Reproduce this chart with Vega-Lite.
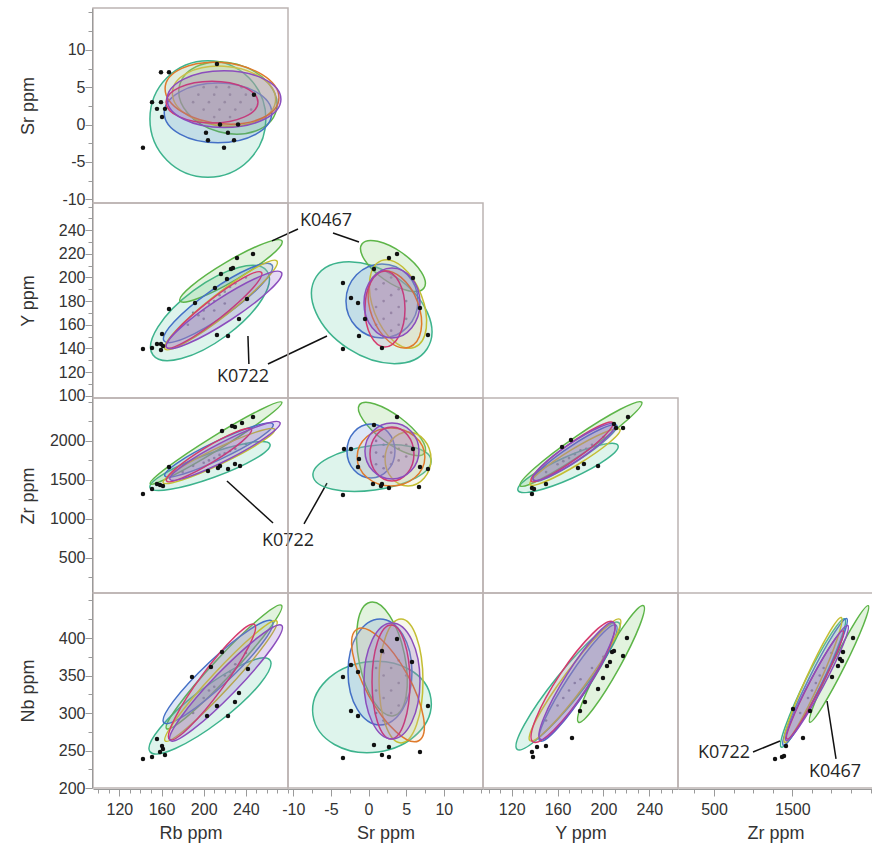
{
"$schema":"https://vega.github.io/schema/vega-lite/v6.json",
"background":"white",
"padding":{"left":18,"top":3,"right":0,"bottom":5},
"config":{
 "view":{"stroke":"#bcb4b2","strokeWidth":1.5},
 "axis":{"domainColor":"#9a9a9a","tickColor":"#9a9a9a","labelFont":"Liberation Sans","labelFontSize":16,"labelColor":"#333333","titleFont":"Liberation Sans","titleFontSize":18,"titleFontWeight":"normal","titleColor":"#333333","grid":false,"labelFlush":false,"labelOverlap":false,"offset":1},
 "axisX":{"labelPadding":5,"titlePadding":7},
 "axisY":{"labelPadding":0}
},
"datasets":{
"ell":[
{"p":"A","e":"K0722","i":0,"x":259,"y":0.75},{"p":"A","e":"K0722","i":1,"x":204,"y":8.55},{"p":"A","e":"K0722","i":2,"x":149,"y":0.75},{"p":"A","e":"K0722","i":3,"x":204,"y":-7.05},
{"p":"A","e":"K0467","i":0,"x":268.8,"y":1.83},{"p":"A","e":"K0467","i":1,"x":214.4,"y":-0.96},{"p":"A","e":"K0467","i":2,"x":177.2,"y":5.29},{"p":"A","e":"K0467","i":3,"x":231.6,"y":8.08},
{"p":"A","e":"s3","i":0,"x":264.6,"y":1.55},{"p":"A","e":"s3","i":1,"x":213.6,"y":5.55},{"p":"A","e":"s3","i":2,"x":162.6,"y":1.55},{"p":"A","e":"s3","i":3,"x":213.6,"y":-2.45},
{"p":"A","e":"s4","i":0,"x":268.3,"y":3.4},{"p":"A","e":"s4","i":1,"x":219.3,"y":7.8},{"p":"A","e":"s4","i":2,"x":170.3,"y":4.2},{"p":"A","e":"s4","i":3,"x":219.3,"y":-0.2},
{"p":"A","e":"s5","i":0,"x":271.4,"y":3.6},{"p":"A","e":"s5","i":1,"x":217.4,"y":8.3},{"p":"A","e":"s5","i":2,"x":163.4,"y":4.8},{"p":"A","e":"s5","i":3,"x":217.4,"y":0.1},
{"p":"A","e":"s7","i":0,"x":251.5,"y":3.0},{"p":"A","e":"s7","i":1,"x":207.9,"y":5.8},{"p":"A","e":"s7","i":2,"x":164.3,"y":3.0},{"p":"A","e":"s7","i":3,"x":207.9,"y":0.2},
{"p":"A","e":"s6","i":0,"x":273.3,"y":3.4},{"p":"A","e":"s6","i":1,"x":219.3,"y":7.2},{"p":"A","e":"s6","i":2,"x":165.3,"y":3.4},{"p":"A","e":"s6","i":3,"x":219.3,"y":-0.4},

{"p":"B","e":"K0722","i":0,"x":260.1,"y":205.4},{"p":"B","e":"K0722","i":1,"x":221.7,"y":150.9},{"p":"B","e":"K0722","i":2,"x":151.9,"y":134.4},{"p":"B","e":"K0722","i":3,"x":190.3,"y":188.9},
{"p":"B","e":"K0467","i":0,"x":274.3,"y":230.9},{"p":"B","e":"K0467","i":1,"x":230.7,"y":198.2},{"p":"B","e":"K0467","i":2,"x":177.5,"y":180.1},{"p":"B","e":"K0467","i":3,"x":221.1,"y":212.8},
{"p":"B","e":"s3","i":0,"x":264.8,"y":210.5},{"p":"B","e":"s3","i":1,"x":221.3,"y":168.7},{"p":"B","e":"s3","i":2,"x":162.4,"y":146.3},{"p":"B","e":"s3","i":3,"x":205.9,"y":188.1},
{"p":"B","e":"s4","i":0,"x":269.5,"y":213.9},{"p":"B","e":"s4","i":1,"x":222.9,"y":169.4},{"p":"B","e":"s4","i":2,"x":163.3,"y":139.5},{"p":"B","e":"s4","i":3,"x":209.9,"y":184},
{"p":"B","e":"s7","i":0,"x":254.9,"y":204.2},{"p":"B","e":"s7","i":1,"x":215.7,"y":165.9},{"p":"B","e":"s7","i":2,"x":164.7,"y":140.8},{"p":"B","e":"s7","i":3,"x":203.9,"y":179.1},
{"p":"B","e":"s6","i":0,"x":273.8,"y":204.2},{"p":"B","e":"s6","i":1,"x":225.5,"y":164},{"p":"B","e":"s6","i":2,"x":164.8,"y":140.8},{"p":"B","e":"s6","i":3,"x":213.1,"y":181},

{"p":"C","e":"K0722","i":0,"x":7.78,"y":139.7},{"p":"C","e":"K0722","i":1,"x":-2.69,"y":139.7},{"p":"C","e":"K0722","i":2,"x":-6.94,"y":200.7},{"p":"C","e":"K0722","i":3,"x":3.53,"y":200.7},
{"p":"C","e":"K0467","i":0,"x":7.36,"y":191.1},{"p":"C","e":"K0467","i":1,"x":2.0,"y":198.7},{"p":"C","e":"K0467","i":2,"x":-0.88,"y":228.3},{"p":"C","e":"K0467","i":3,"x":4.48,"y":220.7},
{"p":"C","e":"s3","i":0,"x":6.56,"y":180.1},{"p":"C","e":"s3","i":1,"x":1.78,"y":211.4},{"p":"C","e":"s3","i":2,"x":-3.0,"y":180.1},{"p":"C","e":"s3","i":3,"x":1.78,"y":148.8},
{"p":"C","e":"s4","i":0,"x":6.13,"y":141},{"p":"C","e":"s4","i":1,"x":0.82,"y":170},{"p":"C","e":"s4","i":2,"x":1.69,"y":214.2},{"p":"C","e":"s4","i":3,"x":7.0,"y":185.2},
{"p":"C","e":"s5","i":0,"x":5.4,"y":141},{"p":"C","e":"s5","i":1,"x":0.5,"y":166.5},{"p":"C","e":"s5","i":2,"x":1.6,"y":205},{"p":"C","e":"s5","i":3,"x":6.5,"y":179.5},
{"p":"C","e":"s7","i":0,"x":4.84,"y":173.3},{"p":"C","e":"s7","i":1,"x":2.18,"y":205.4},{"p":"C","e":"s7","i":2,"x":-0.48,"y":173.3},{"p":"C","e":"s7","i":3,"x":2.18,"y":141.2},
{"p":"C","e":"s6","i":0,"x":6.83,"y":178.4},{"p":"C","e":"s6","i":1,"x":3.11,"y":208},{"p":"C","e":"s6","i":2,"x":-0.61,"y":178.4},{"p":"C","e":"s6","i":3,"x":3.11,"y":148.8},

{"p":"D","e":"K0722","i":0,"x":262.9,"y":1956},{"p":"D","e":"K0722","i":1,"x":209.9,"y":1533},{"p":"D","e":"K0722","i":2,"x":149.1,"y":1400},{"p":"D","e":"K0722","i":3,"x":202.1,"y":1823},
{"p":"D","e":"K0467","i":0,"x":274.1,"y":2496},{"p":"D","e":"K0467","i":1,"x":215.2,"y":1897},{"p":"D","e":"K0467","i":2,"x":149.3,"y":1450},{"p":"D","e":"K0467","i":3,"x":208.2,"y":2049},
{"p":"D","e":"s3","i":0,"x":265.9,"y":2214},{"p":"D","e":"s3","i":1,"x":218.2,"y":1779},{"p":"D","e":"s3","i":2,"x":163.1,"y":1552},{"p":"D","e":"s3","i":3,"x":210.8,"y":1987},
{"p":"D","e":"s4","i":0,"x":267.4,"y":2148},{"p":"D","e":"s4","i":1,"x":217.8,"y":1714},{"p":"D","e":"s4","i":2,"x":161.6,"y":1464},{"p":"D","e":"s4","i":3,"x":211.2,"y":1898},
{"p":"D","e":"s7","i":0,"x":245.3,"y":2150},{"p":"D","e":"s7","i":1,"x":208.9,"y":1731},{"p":"D","e":"s7","i":2,"x":164.7,"y":1488},{"p":"D","e":"s7","i":3,"x":201.1,"y":1907},
{"p":"D","e":"s6","i":0,"x":272.4,"y":2234},{"p":"D","e":"s6","i":1,"x":224.1,"y":1768},{"p":"D","e":"s6","i":2,"x":168,"y":1508},{"p":"D","e":"s6","i":3,"x":216.3,"y":1974},

{"p":"E","e":"K0722","i":0,"x":8.3,"y":1756},{"p":"E","e":"K0722","i":1,"x":0.86,"y":1371},{"p":"E","e":"K0722","i":2,"x":-7.38,"y":1550},{"p":"E","e":"K0722","i":3,"x":0.06,"y":1935},
{"p":"E","e":"K0467","i":0,"x":7.43,"y":1843},{"p":"E","e":"K0467","i":1,"x":2.0,"y":2009},{"p":"E","e":"K0467","i":2,"x":-1.21,"y":2463},{"p":"E","e":"K0467","i":3,"x":4.22,"y":2297},
{"p":"E","e":"s3","i":0,"x":3.51,"y":1871},{"p":"E","e":"s3","i":1,"x":0.32,"y":2217},{"p":"E","e":"s3","i":2,"x":-2.87,"y":1871},{"p":"E","e":"s3","i":3,"x":0.32,"y":1525},
{"p":"E","e":"s4","i":0,"x":8.29,"y":1768},{"p":"E","e":"s4","i":1,"x":5.24,"y":2114},{"p":"E","e":"s4","i":2,"x":2.19,"y":1768},{"p":"E","e":"s4","i":3,"x":5.24,"y":1422},
{"p":"E","e":"s5","i":0,"x":7.48,"y":1794},{"p":"E","e":"s5","i":1,"x":2.98,"y":2166},{"p":"E","e":"s5","i":2,"x":-1.52,"y":1794},{"p":"E","e":"s5","i":3,"x":2.98,"y":1422},
{"p":"E","e":"s7","i":0,"x":6.03,"y":1832},{"p":"E","e":"s7","i":1,"x":3.11,"y":2178},{"p":"E","e":"s7","i":2,"x":0.19,"y":1832},{"p":"E","e":"s7","i":3,"x":3.11,"y":1486},
{"p":"E","e":"s6","i":0,"x":6.7,"y":1871},{"p":"E","e":"s6","i":1,"x":3.11,"y":2230},{"p":"E","e":"s6","i":2,"x":-0.48,"y":1871},{"p":"E","e":"s6","i":3,"x":3.11,"y":1512},

{"p":"F","e":"K0722","i":0,"x":212.7,"y":1941},{"p":"F","e":"K0722","i":1,"x":173,"y":1525},{"p":"F","e":"K0722","i":2,"x":125.5,"y":1365},{"p":"F","e":"K0722","i":3,"x":165.2,"y":1781},
{"p":"F","e":"K0467","i":0,"x":233.4,"y":2495},{"p":"F","e":"K0467","i":1,"x":184.85,"y":1865},{"p":"F","e":"K0467","i":2,"x":127.4,"y":1425},{"p":"F","e":"K0467","i":3,"x":175.95,"y":2055},
{"p":"F","e":"s3","i":0,"x":211.6,"y":2198},{"p":"F","e":"s3","i":1,"x":179,"y":1759},{"p":"F","e":"s3","i":2,"x":138.8,"y":1492},{"p":"F","e":"s3","i":3,"x":171.4,"y":1931},
{"p":"F","e":"s4","i":0,"x":214.4,"y":2147},{"p":"F","e":"s4","i":1,"x":178.8,"y":1707},{"p":"F","e":"s4","i":2,"x":136,"y":1441},{"p":"F","e":"s4","i":3,"x":171.6,"y":1881},
{"p":"F","e":"s7","i":0,"x":208.2,"y":2232},{"p":"F","e":"s7","i":1,"x":176.7,"y":1775},{"p":"F","e":"s7","i":2,"x":137,"y":1484},{"p":"F","e":"s7","i":3,"x":168.5,"y":1941},
{"p":"F","e":"s6","i":0,"x":209.9,"y":2211},{"p":"F","e":"s6","i":1,"x":178.7,"y":1762},{"p":"F","e":"s6","i":2,"x":138.7,"y":1505},{"p":"F","e":"s6","i":3,"x":169.9,"y":1954},

{"p":"G","e":"K0722","i":0,"x":262.9,"y":370.5},{"p":"G","e":"K0722","i":1,"x":216.4,"y":290.3},{"p":"G","e":"K0722","i":2,"x":149.1,"y":248.3},{"p":"G","e":"K0722","i":3,"x":195.6,"y":328.5},
{"p":"G","e":"K0467","i":0,"x":273.8,"y":443.6},{"p":"G","e":"K0467","i":1,"x":226.2,"y":352.3},{"p":"G","e":"K0467","i":2,"x":164.8,"y":279.2},{"p":"G","e":"K0467","i":3,"x":212.4,"y":370.5},
{"p":"G","e":"s3","i":0,"x":265,"y":422.4},{"p":"G","e":"s3","i":1,"x":222,"y":342},{"p":"G","e":"s3","i":2,"x":162.2,"y":287},{"p":"G","e":"s3","i":3,"x":205.2,"y":367.4},
{"p":"G","e":"s4","i":0,"x":269.3,"y":422.7},{"p":"G","e":"s4","i":1,"x":223.3,"y":333.6},{"p":"G","e":"s4","i":2,"x":163.5,"y":262.7},{"p":"G","e":"s4","i":3,"x":209.5,"y":351.8},
{"p":"G","e":"s7","i":0,"x":248.2,"y":418.1},{"p":"G","e":"s7","i":1,"x":217,"y":331.9},{"p":"G","e":"s7","i":2,"x":167.6,"y":264.7},{"p":"G","e":"s7","i":3,"x":198.8,"y":350.9},
{"p":"G","e":"s6","i":0,"x":274.1,"y":416.7},{"p":"G","e":"s6","i":1,"x":229.4,"y":328.8},{"p":"G","e":"s6","i":2,"x":168.3,"y":263.3},{"p":"G","e":"s6","i":3,"x":213,"y":351.2},

{"p":"H","e":"K0722","i":0,"x":8.29,"y":318.7},{"p":"H","e":"K0722","i":1,"x":1.25,"y":248},{"p":"H","e":"K0722","i":2,"x":-7.39,"y":297.3},{"p":"H","e":"K0722","i":3,"x":-0.35,"y":368},
{"p":"H","e":"K0467","i":0,"x":3.33,"y":296.4},{"p":"H","e":"K0467","i":1,"x":-1.21,"y":365.8},{"p":"H","e":"K0467","i":2,"x":0.23,"y":447.6},{"p":"H","e":"K0467","i":3,"x":4.77,"y":378.2},
{"p":"H","e":"s3","i":0,"x":5.77,"y":354.7},{"p":"H","e":"s3","i":1,"x":1.52,"y":425.4},{"p":"H","e":"s3","i":2,"x":-2.73,"y":354.7},{"p":"H","e":"s3","i":3,"x":1.52,"y":284},
{"p":"H","e":"s4","i":0,"x":7.23,"y":342.7},{"p":"H","e":"s4","i":1,"x":4.31,"y":425.3},{"p":"H","e":"s4","i":2,"x":1.39,"y":342.7},{"p":"H","e":"s4","i":3,"x":4.31,"y":260.1},
{"p":"H","e":"s5","i":0,"x":6.67,"y":263},{"p":"H","e":"s5","i":1,"x":0.02,"y":323.3},{"p":"H","e":"s5","i":2,"x":-1.51,"y":411.8},{"p":"H","e":"s5","i":3,"x":5.14,"y":351.5},
{"p":"H","e":"s7","i":0,"x":5.5,"y":341.4},{"p":"H","e":"s7","i":1,"x":2.98,"y":417.4},{"p":"H","e":"s7","i":2,"x":0.46,"y":341.4},{"p":"H","e":"s7","i":3,"x":2.98,"y":265.4},
{"p":"H","e":"s6","i":0,"x":6.83,"y":342.7},{"p":"H","e":"s6","i":1,"x":3.11,"y":420},{"p":"H","e":"s6","i":2,"x":-0.61,"y":342.7},{"p":"H","e":"s6","i":3,"x":3.11,"y":265.4},

{"p":"I","e":"K0722","i":0,"x":213.4,"y":420.4},{"p":"I","e":"K0722","i":1,"x":178.6,"y":324.3},{"p":"I","e":"K0722","i":2,"x":124.8,"y":251.6},{"p":"I","e":"K0722","i":3,"x":159.6,"y":347.7},
{"p":"I","e":"K0467","i":0,"x":234.9,"y":443.1},{"p":"I","e":"K0467","i":1,"x":213.5,"y":359.5},{"p":"I","e":"K0467","i":2,"x":178.3,"y":287.7},{"p":"I","e":"K0467","i":3,"x":199.7,"y":371.3},
{"p":"I","e":"s3","i":0,"x":210.9,"y":417.3},{"p":"I","e":"s3","i":1,"x":185.8,"y":332},{"p":"I","e":"s3","i":2,"x":144.7,"y":262.7},{"p":"I","e":"s3","i":3,"x":169.8,"y":348},
{"p":"I","e":"s4","i":0,"x":214.4,"y":425},{"p":"I","e":"s4","i":1,"x":182.9,"y":335.3},{"p":"I","e":"s4","i":2,"x":136,"y":263},{"p":"I","e":"s4","i":3,"x":167.5,"y":352.7},
{"p":"I","e":"s7","i":0,"x":208.4,"y":421.4},{"p":"I","e":"s7","i":1,"x":184.4,"y":330.3},{"p":"I","e":"s7","i":2,"x":138.6,"y":261.4},{"p":"I","e":"s7","i":3,"x":162.6,"y":352.5},
{"p":"I","e":"s6","i":0,"x":209,"y":420.4},{"p":"I","e":"s6","i":1,"x":185.9,"y":334.2},{"p":"I","e":"s6","i":2,"x":145,"y":265},{"p":"I","e":"s6","i":3,"x":168.1,"y":351.2},

{"p":"J","e":"K0722","i":0,"x":2169,"y":425.6},{"p":"J","e":"K0722","i":1,"x":1856,"y":335.3},{"p":"J","e":"K0722","i":2,"x":1359,"y":254.4},{"p":"J","e":"K0722","i":3,"x":1672,"y":344.7},
{"p":"J","e":"K0467","i":0,"x":2469,"y":443.1},{"p":"J","e":"K0467","i":1,"x":2165,"y":361.8},{"p":"J","e":"K0467","i":2,"x":1723,"y":287.7},{"p":"J","e":"K0467","i":3,"x":2027,"y":369},
{"p":"J","e":"s3","i":0,"x":2195,"y":425.8},{"p":"J","e":"s3","i":1,"x":1870,"y":337.2},{"p":"J","e":"s3","i":2,"x":1385,"y":257},{"p":"J","e":"s3","i":3,"x":1710,"y":345.6},
{"p":"J","e":"s4","i":0,"x":2125,"y":427.3},{"p":"J","e":"s4","i":1,"x":1846,"y":340.1},{"p":"J","e":"s4","i":2,"x":1403,"y":260.7},{"p":"J","e":"s4","i":3,"x":1682,"y":347.9},
{"p":"J","e":"s7","i":0,"x":2148,"y":409.4},{"p":"J","e":"s7","i":1,"x":1858,"y":333.7},{"p":"J","e":"s7","i":2,"x":1432,"y":265.4},{"p":"J","e":"s7","i":3,"x":1722,"y":341.1},
{"p":"J","e":"s6","i":0,"x":2208,"y":416.7},{"p":"J","e":"s6","i":1,"x":1894,"y":335.6},{"p":"J","e":"s6","i":2,"x":1422,"y":263.3},{"p":"J","e":"s6","i":3,"x":1736,"y":344.4}
],
"pts":[
{"p":"A","k":"o","x":159.5,"y":7.0},{"p":"A","k":"o","x":167.1,"y":7.0},{"p":"A","k":"o","x":212.6,"y":8.1},{"p":"A","k":"o","x":151,"y":3.0},{"p":"A","k":"o","x":159.5,"y":3.0},{"p":"A","k":"o","x":155.7,"y":2.1},{"p":"A","k":"o","x":163.3,"y":2.1},{"p":"A","k":"o","x":160.5,"y":1.0},{"p":"A","k":"o","x":202.2,"y":-1.1},{"p":"A","k":"o","x":204.1,"y":-2.1},{"p":"A","k":"o","x":228.8,"y":-2.1},{"p":"A","k":"o","x":219.3,"y":-3.1},{"p":"A","k":"o","x":142.4,"y":-3.1},{"p":"A","k":"o","x":247.7,"y":4.0},{"p":"A","k":"o","x":215.5,"y":0},{"p":"A","k":"o","x":232.6,"y":0},{"p":"A","k":"o","x":223,"y":-1.1},
{"p":"A","k":"c","x":200,"y":5},{"p":"A","k":"c","x":212,"y":5},{"p":"A","k":"c","x":224,"y":5},{"p":"A","k":"c","x":236,"y":5},{"p":"A","k":"c","x":195,"y":4},{"p":"A","k":"c","x":210,"y":4},{"p":"A","k":"c","x":225,"y":4},{"p":"A","k":"c","x":240,"y":4},{"p":"A","k":"c","x":190,"y":3},{"p":"A","k":"c","x":205,"y":3},{"p":"A","k":"c","x":220,"y":3},{"p":"A","k":"c","x":235,"y":3},{"p":"A","k":"c","x":200,"y":2},{"p":"A","k":"c","x":215,"y":2},{"p":"A","k":"c","x":230,"y":2},{"p":"A","k":"c","x":245,"y":2},{"p":"A","k":"c","x":210,"y":1},{"p":"A","k":"c","x":225,"y":1},
{"p":"B","k":"o","x":142.4,"y":139.5},{"p":"B","k":"o","x":151,"y":140.3},{"p":"B","k":"o","x":155.7,"y":143.7},{"p":"B","k":"o","x":159.5,"y":143.7},{"p":"B","k":"o","x":161.4,"y":142},{"p":"B","k":"o","x":159.5,"y":138.6},{"p":"B","k":"o","x":160.5,"y":152.2},{"p":"B","k":"o","x":167.1,"y":173.3},{"p":"B","k":"o","x":212.6,"y":151.3},{"p":"B","k":"o","x":223.1,"y":150.5},{"p":"B","k":"o","x":233.5,"y":164.9},{"p":"B","k":"o","x":246.8,"y":219.9},{"p":"B","k":"o","x":231.6,"y":216.5},{"p":"B","k":"o","x":216.4,"y":202.9},{"p":"B","k":"o","x":222.1,"y":198.7},{"p":"B","k":"o","x":225.9,"y":207.2},{"p":"B","k":"o","x":227.8,"y":208},{"p":"B","k":"o","x":210.7,"y":191.1},{"p":"B","k":"o","x":241.1,"y":181.8},{"p":"B","k":"o","x":191.8,"y":178.4},
{"p":"B","k":"c","x":185,"y":160},{"p":"B","k":"c","x":195,"y":168},{"p":"B","k":"c","x":200,"y":172},{"p":"B","k":"c","x":205,"y":178},{"p":"B","k":"c","x":210,"y":180},{"p":"B","k":"c","x":215,"y":185},{"p":"B","k":"c","x":220,"y":188},{"p":"B","k":"c","x":225,"y":192},{"p":"B","k":"c","x":230,"y":195},{"p":"B","k":"c","x":240,"y":200},{"p":"B","k":"c","x":190,"y":170},{"p":"B","k":"c","x":210,"y":172},{"p":"B","k":"c","x":220,"y":178},{"p":"B","k":"c","x":200,"y":165},
{"p":"C","k":"o","x":3.78,"y":219.9},{"p":"C","k":"o","x":2.71,"y":216.5},{"p":"C","k":"o","x":-3.4,"y":195.4},{"p":"C","k":"o","x":-2.33,"y":182.6},{"p":"C","k":"o","x":-1.4,"y":178.4},{"p":"C","k":"o","x":0.72,"y":207.2},{"p":"C","k":"o","x":-1.27,"y":150.5},{"p":"C","k":"o","x":1.78,"y":140.3},{"p":"C","k":"o","x":-3.4,"y":139.5},{"p":"C","k":"o","x":7.89,"y":151.3},{"p":"C","k":"o","x":6.83,"y":174.2},{"p":"C","k":"o","x":5.9,"y":199.6},{"p":"C","k":"o","x":-0.47,"y":164.9},
{"p":"C","k":"c","x":1,"y":160},{"p":"C","k":"c","x":1,"y":175},{"p":"C","k":"c","x":1,"y":190},{"p":"C","k":"c","x":2,"y":150},{"p":"C","k":"c","x":2,"y":165},{"p":"C","k":"c","x":2,"y":180},{"p":"C","k":"c","x":2,"y":195},{"p":"C","k":"c","x":3,"y":155},{"p":"C","k":"c","x":3,"y":170},{"p":"C","k":"c","x":3,"y":185},{"p":"C","k":"c","x":3,"y":200},{"p":"C","k":"c","x":4,"y":160},{"p":"C","k":"c","x":4,"y":175},{"p":"C","k":"c","x":4,"y":190},{"p":"C","k":"c","x":5,"y":165},{"p":"C","k":"c","x":5,"y":180},
{"p":"D","k":"o","x":142.4,"y":1319},{"p":"D","k":"o","x":151,"y":1383},{"p":"D","k":"o","x":155.7,"y":1447},{"p":"D","k":"o","x":158.6,"y":1435},{"p":"D","k":"o","x":161.4,"y":1422},{"p":"D","k":"o","x":167.1,"y":1665},{"p":"D","k":"o","x":204.1,"y":1614},{"p":"D","k":"o","x":213.6,"y":1653},{"p":"D","k":"o","x":215.5,"y":1678},{"p":"D","k":"o","x":223.1,"y":1640},{"p":"D","k":"o","x":229.7,"y":1704},{"p":"D","k":"o","x":234.5,"y":1678},{"p":"D","k":"o","x":217.4,"y":2127},{"p":"D","k":"o","x":226.9,"y":2191},{"p":"D","k":"o","x":229.7,"y":2178},{"p":"D","k":"o","x":236.4,"y":2230},{"p":"D","k":"o","x":246.8,"y":2306},
{"p":"D","k":"c","x":180,"y":1600},{"p":"D","k":"c","x":190,"y":1680},{"p":"D","k":"c","x":200,"y":1720},{"p":"D","k":"c","x":210,"y":1780},{"p":"D","k":"c","x":220,"y":1840},{"p":"D","k":"c","x":230,"y":1900},{"p":"D","k":"c","x":240,"y":1960},{"p":"D","k":"c","x":205,"y":1750},{"p":"D","k":"c","x":215,"y":1820},{"p":"D","k":"c","x":225,"y":1870},
{"p":"E","k":"o","x":3.78,"y":2306},{"p":"E","k":"o","x":0.72,"y":2204},{"p":"E","k":"o","x":-3.26,"y":1896},{"p":"E","k":"o","x":-2.33,"y":1896},{"p":"E","k":"o","x":-1.27,"y":1768},{"p":"E","k":"o","x":-1.4,"y":1665},{"p":"E","k":"o","x":0.59,"y":1447},{"p":"E","k":"o","x":1.65,"y":1422},{"p":"E","k":"o","x":1.78,"y":1447},{"p":"E","k":"o","x":2.71,"y":1396},{"p":"E","k":"o","x":6.7,"y":1409},{"p":"E","k":"o","x":7.89,"y":1640},{"p":"E","k":"o","x":6.83,"y":1665},{"p":"E","k":"o","x":5.9,"y":1896},{"p":"E","k":"o","x":-3.4,"y":1306},
{"p":"E","k":"c","x":1,"y":1700},{"p":"E","k":"c","x":1,"y":1850},{"p":"E","k":"c","x":1,"y":2000},{"p":"E","k":"c","x":2,"y":1650},{"p":"E","k":"c","x":2,"y":1800},{"p":"E","k":"c","x":2,"y":1950},{"p":"E","k":"c","x":3,"y":1700},{"p":"E","k":"c","x":3,"y":1850},{"p":"E","k":"c","x":3,"y":2000},{"p":"E","k":"c","x":4,"y":1750},{"p":"E","k":"c","x":4,"y":1900},{"p":"E","k":"c","x":5,"y":1800},{"p":"E","k":"c","x":5,"y":1950},
{"p":"F","k":"o","x":137.7,"y":1319},{"p":"F","k":"o","x":137.7,"y":1396},{"p":"F","k":"o","x":139.5,"y":1383},{"p":"F","k":"o","x":149.9,"y":1447},{"p":"F","k":"o","x":163.9,"y":1922},{"p":"F","k":"o","x":171.7,"y":2012},{"p":"F","k":"o","x":177.8,"y":1653},{"p":"F","k":"o","x":183,"y":1704},{"p":"F","k":"o","x":195.3,"y":1678},{"p":"F","k":"o","x":209.2,"y":2217},{"p":"F","k":"o","x":211,"y":2165},{"p":"F","k":"o","x":217.1,"y":2165},{"p":"F","k":"o","x":221.4,"y":2306},
{"p":"F","k":"c","x":150,"y":1600},{"p":"F","k":"c","x":160,"y":1700},{"p":"F","k":"c","x":170,"y":1780},{"p":"F","k":"c","x":175,"y":1830},{"p":"F","k":"c","x":180,"y":1880},{"p":"F","k":"c","x":190,"y":1950},{"p":"F","k":"c","x":200,"y":2050},{"p":"F","k":"c","x":165,"y":1740},{"p":"F","k":"c","x":185,"y":1900},
{"p":"G","k":"o","x":142.4,"y":238.7},{"p":"G","k":"o","x":151,"y":241.4},{"p":"G","k":"o","x":155.7,"y":265.4},{"p":"G","k":"o","x":160.5,"y":256},{"p":"G","k":"o","x":161.4,"y":252},{"p":"G","k":"o","x":158.6,"y":248},{"p":"G","k":"o","x":163.3,"y":244},{"p":"G","k":"o","x":188.9,"y":348},{"p":"G","k":"o","x":206.9,"y":361.4},{"p":"G","k":"o","x":217.4,"y":381.4},{"p":"G","k":"o","x":242,"y":358.7},{"p":"G","k":"o","x":233.5,"y":326.7},{"p":"G","k":"o","x":229.7,"y":314.7},{"p":"G","k":"o","x":223.1,"y":296},{"p":"G","k":"o","x":212.6,"y":309.4},{"p":"G","k":"o","x":203.2,"y":296},
{"p":"G","k":"c","x":190,"y":300},{"p":"G","k":"c","x":200,"y":320},{"p":"G","k":"c","x":210,"y":335},{"p":"G","k":"c","x":220,"y":350},{"p":"G","k":"c","x":230,"y":365},{"p":"G","k":"c","x":240,"y":380},{"p":"G","k":"c","x":205,"y":330},{"p":"G","k":"c","x":225,"y":355},
{"p":"H","k":"o","x":-3.4,"y":348},{"p":"H","k":"o","x":-2.33,"y":364},{"p":"H","k":"o","x":-1.4,"y":354.7},{"p":"H","k":"o","x":-2.33,"y":302.7},{"p":"H","k":"o","x":-1.4,"y":296},{"p":"H","k":"o","x":0.72,"y":257.4},{"p":"H","k":"o","x":1.78,"y":244},{"p":"H","k":"o","x":2.71,"y":241.4},{"p":"H","k":"o","x":2.71,"y":254.7},{"p":"H","k":"o","x":-3.4,"y":240},{"p":"H","k":"o","x":6.83,"y":248},{"p":"H","k":"o","x":7.89,"y":309.4},{"p":"H","k":"o","x":5.77,"y":368},{"p":"H","k":"o","x":3.78,"y":398.7},{"p":"H","k":"o","x":1.78,"y":382.7},
{"p":"H","k":"c","x":1,"y":300},{"p":"H","k":"c","x":1,"y":330},{"p":"H","k":"c","x":1,"y":360},{"p":"H","k":"c","x":2,"y":290},{"p":"H","k":"c","x":2,"y":320},{"p":"H","k":"c","x":2,"y":350},{"p":"H","k":"c","x":2,"y":380},{"p":"H","k":"c","x":3,"y":300},{"p":"H","k":"c","x":3,"y":330},{"p":"H","k":"c","x":3,"y":360},{"p":"H","k":"c","x":4,"y":310},{"p":"H","k":"c","x":4,"y":340},{"p":"H","k":"c","x":4,"y":370},{"p":"H","k":"c","x":5,"y":320},{"p":"H","k":"c","x":5,"y":350},
{"p":"I","k":"o","x":137.7,"y":248},{"p":"I","k":"o","x":138.6,"y":241.4},{"p":"I","k":"o","x":142.1,"y":254.7},{"p":"I","k":"o","x":149.9,"y":256},{"p":"I","k":"o","x":172.6,"y":266.7},{"p":"I","k":"o","x":179.6,"y":302.7},{"p":"I","k":"o","x":183.9,"y":314.7},{"p":"I","k":"o","x":195.3,"y":332},{"p":"I","k":"o","x":199.6,"y":346.7},{"p":"I","k":"o","x":203.1,"y":362.7},{"p":"I","k":"o","x":205.7,"y":368},{"p":"I","k":"o","x":207.5,"y":381.4},{"p":"I","k":"o","x":209.2,"y":382.7},{"p":"I","k":"o","x":220.5,"y":400},{"p":"I","k":"o","x":217.1,"y":376},
{"p":"I","k":"c","x":150,"y":290},{"p":"I","k":"c","x":160,"y":310},{"p":"I","k":"c","x":170,"y":330},{"p":"I","k":"c","x":180,"y":345},{"p":"I","k":"c","x":190,"y":360},{"p":"I","k":"c","x":200,"y":375},{"p":"I","k":"c","x":175,"y":340},{"p":"I","k":"c","x":165,"y":320},
{"p":"J","k":"o","x":1279,"y":238.7},{"p":"J","k":"o","x":1368,"y":241.4},{"p":"J","k":"o","x":1394,"y":242.7},{"p":"J","k":"o","x":1419,"y":256},{"p":"J","k":"o","x":1636,"y":266.7},{"p":"J","k":"o","x":2007,"y":348},{"p":"J","k":"o","x":2083,"y":362.7},{"p":"J","k":"o","x":2134,"y":369.4},{"p":"J","k":"o","x":2147,"y":381.4},{"p":"J","k":"o","x":2109,"y":372},{"p":"J","k":"o","x":2275,"y":400},{"p":"J","k":"o","x":1509,"y":305.4},{"p":"J","k":"o","x":1726,"y":302.7},
{"p":"J","k":"c","x":1600,"y":300},{"p":"J","k":"c","x":1700,"y":320},{"p":"J","k":"c","x":1800,"y":340},{"p":"J","k":"c","x":1900,"y":360},{"p":"J","k":"c","x":2000,"y":380},{"p":"J","k":"c","x":1750,"y":330},{"p":"J","k":"c","x":1850,"y":350}
],
"lines":[
{"p":"B","x":264.8,"y":230.9,"x2":289.5,"y2":241},
{"p":"C","x":-4.72,"y":237.6,"x2":-1.27,"y2":230},
{"p":"B","x":242.0,"y":150.5,"x2":242.9,"y2":126.8},
{"p":"B","x":261,"y":126.8,"x2":317,"y2":150.5},
{"p":"D","x":222.1,"y":1486,"x2":265.8,"y2":947},
{"p":"D","x":317,"y":1460,"x2":295.2,"y2":935},
{"p":"J","x":998,"y":248,"x2":1343,"y2":262.7},
{"p":"J","x":1943,"y":316,"x2":2058,"y2":238.7}
],
"texts":[
{"p":"C","x":-5.65,"y":247.8,"t":"K0467"},
{"p":"B","x":237.3,"y":115.8,"t":"K0722"},
{"p":"D","x":280,"y":717,"t":"K0722"},
{"p":"J","x":627,"y":246.7,"t":"K0722"},
{"p":"J","x":2045,"y":221.4,"t":"K0467"}
]
},
"spacing":0,
"columns":4,
"bounds":"flush",
"concat":[
{"width":195,"height":195,"layer":[
 {"data":{"name":"pts"},"transform":[{"filter":"datum.p==='A' && datum.k==='c'"}],"mark":{"type":"point","filled":true,"size":7,"color":"#6b5f78","opacity":0.9},"encoding":{"x":{"field":"x","type":"quantitative","scale":{"domain":[95,280],"nice":false,"zero":false},"axis":null},"y":{"field":"y","type":"quantitative","scale":{"domain":[-10.5,15.6],"nice":false,"zero":false},"axis":{"title":"Sr ppm","titleX":-55,"labelOverlap":false,"tickCount":60,"values":[-10,-7.5,-5,-2.5,0,2.5,5,7.5,10,12.5,15],"labelExpr":"indexof([-10,-5,0,5,10],datum.value)>=0 ? ''+datum.value : ''","tickSize":{"condition":{"test":"indexof([-10,-5,0,5,10],datum.value)>=0","value":7},"value":4}}}}},
 {"data":{"name":"ell"},"transform":[{"filter":"datum.p==='A'"}],"mark":{"type":"line","interpolate":"cardinal-closed","tension":-0.657,"fillOpacity":0.2,"strokeWidth":1.5},"encoding":{"x":{"field":"x","type":"quantitative","scale":{"domain":[95,280],"nice":false,"zero":false},"axis":null},"y":{"field":"y","type":"quantitative","scale":{"domain":[-10.5,15.6],"nice":false,"zero":false}},"stroke":{"field":"e","type":"nominal","scale":{"domain":["K0722","K0467","s3","s4","s5","s6","s7"],"range":["#3db38d","#5db548","#4470c6","#c4be33","#e07a2b","#8b4dbd","#d63a6c"]},"legend":null},"fill":{"field":"e","type":"nominal","scale":{"domain":["K0722","K0467","s3","s4","s5","s6","s7"],"range":["#5cc6a2","#6fc25a","#5a86d6","#d9d69e","#eccaa6","#7b45c2","#c585b4"]},"legend":null},"order":{"field":"i","type":"quantitative"}}},
 {"data":{"name":"pts"},"transform":[{"filter":"datum.p==='A' && datum.k==='o'"}],"mark":{"type":"point","filled":true,"size":20,"color":"#111111","opacity":1},"encoding":{"x":{"field":"x","type":"quantitative","scale":{"domain":[95,280],"nice":false,"zero":false},"axis":null},"y":{"field":"y","type":"quantitative","scale":{"domain":[-10.5,15.6],"nice":false,"zero":false}}}}
]},
{"width":195,"height":195,"view":{"stroke":null},"data":{"values":[{"a":0}]},"mark":{"type":"point","opacity":0}},
{"width":195,"height":195,"view":{"stroke":null},"data":{"values":[{"a":0}]},"mark":{"type":"point","opacity":0}},
{"width":195,"height":195,"view":{"stroke":null},"data":{"values":[{"a":0}]},"mark":{"type":"point","opacity":0}},

{"width":195,"height":195,"layer":[
 {"data":{"name":"pts"},"transform":[{"filter":"datum.p==='B' && datum.k==='c'"}],"mark":{"type":"point","filled":true,"size":7,"color":"#6b5f78","opacity":0.9},"encoding":{"x":{"field":"x","type":"quantitative","scale":{"domain":[95,280],"nice":false,"zero":false},"axis":null},"y":{"field":"y","type":"quantitative","scale":{"domain":[98,263],"nice":false,"zero":false},"axis":{"title":"Y ppm","titleX":-55,"labelOverlap":false,"tickCount":60,"values":[100,110,120,130,140,150,160,170,180,190,200,210,220,230,240,250,260],"labelExpr":"indexof([100,120,140,160,180,200,220,240],datum.value)>=0 ? ''+datum.value : ''","tickSize":{"condition":{"test":"indexof([100,120,140,160,180,200,220,240],datum.value)>=0","value":7},"value":4}}}}},
 {"data":{"name":"ell"},"transform":[{"filter":"datum.p==='B'"}],"mark":{"type":"line","interpolate":"cardinal-closed","tension":-0.657,"fillOpacity":0.2,"strokeWidth":1.5},"encoding":{"x":{"field":"x","type":"quantitative","scale":{"domain":[95,280],"nice":false,"zero":false},"axis":null},"y":{"field":"y","type":"quantitative","scale":{"domain":[98,263],"nice":false,"zero":false}},"stroke":{"field":"e","type":"nominal","scale":{"domain":["K0722","K0467","s3","s4","s5","s6","s7"],"range":["#3db38d","#5db548","#4470c6","#c4be33","#e07a2b","#8b4dbd","#d63a6c"]},"legend":null},"fill":{"field":"e","type":"nominal","scale":{"domain":["K0722","K0467","s3","s4","s5","s6","s7"],"range":["#5cc6a2","#6fc25a","#5a86d6","#d9d69e","#eccaa6","#7b45c2","#c585b4"]},"legend":null},"order":{"field":"i","type":"quantitative"}}},
 {"data":{"name":"pts"},"transform":[{"filter":"datum.p==='B' && datum.k==='o'"}],"mark":{"type":"point","filled":true,"size":20,"color":"#111111","opacity":1},"encoding":{"x":{"field":"x","type":"quantitative","scale":{"domain":[95,280],"nice":false,"zero":false},"axis":null},"y":{"field":"y","type":"quantitative","scale":{"domain":[98,263],"nice":false,"zero":false}}}},
 {"data":{"name":"lines"},"transform":[{"filter":"datum.p==='B'"}],"mark":{"type":"rule","color":"#111111","strokeWidth":1.5},"encoding":{"x":{"field":"x","type":"quantitative","scale":{"domain":[95,280],"nice":false,"zero":false},"axis":null},"y":{"field":"y","type":"quantitative","scale":{"domain":[98,263],"nice":false,"zero":false}},"x2":{"field":"x2"},"y2":{"field":"y2"}}},
 {"data":{"name":"texts"},"transform":[{"filter":"datum.p==='B'"}],"mark":{"type":"text","font":"Open Sans","fontSize":18,"color":"#262626"},"encoding":{"x":{"field":"x","type":"quantitative","scale":{"domain":[95,280],"nice":false,"zero":false},"axis":null},"y":{"field":"y","type":"quantitative","scale":{"domain":[98,263],"nice":false,"zero":false}},"text":{"field":"t"}}}
]},
{"width":195,"height":195,"layer":[
 {"data":{"name":"pts"},"transform":[{"filter":"datum.p==='C' && datum.k==='c'"}],"mark":{"type":"point","filled":true,"size":7,"color":"#6b5f78","opacity":0.9},"encoding":{"x":{"field":"x","type":"quantitative","scale":{"domain":[-10.7,15.2],"nice":false,"zero":false},"axis":null},"y":{"field":"y","type":"quantitative","scale":{"domain":[98,263],"nice":false,"zero":false},"axis":null}}},
 {"data":{"name":"ell"},"transform":[{"filter":"datum.p==='C'"}],"mark":{"type":"line","interpolate":"cardinal-closed","tension":-0.657,"fillOpacity":0.2,"strokeWidth":1.5},"encoding":{"x":{"field":"x","type":"quantitative","scale":{"domain":[-10.7,15.2],"nice":false,"zero":false},"axis":null},"y":{"field":"y","type":"quantitative","scale":{"domain":[98,263],"nice":false,"zero":false},"axis":null},"stroke":{"field":"e","type":"nominal","scale":{"domain":["K0722","K0467","s3","s4","s5","s6","s7"],"range":["#3db38d","#5db548","#4470c6","#c4be33","#e07a2b","#8b4dbd","#d63a6c"]},"legend":null},"fill":{"field":"e","type":"nominal","scale":{"domain":["K0722","K0467","s3","s4","s5","s6","s7"],"range":["#5cc6a2","#6fc25a","#5a86d6","#d9d69e","#eccaa6","#7b45c2","#c585b4"]},"legend":null},"order":{"field":"i","type":"quantitative"}}},
 {"data":{"name":"pts"},"transform":[{"filter":"datum.p==='C' && datum.k==='o'"}],"mark":{"type":"point","filled":true,"size":20,"color":"#111111","opacity":1},"encoding":{"x":{"field":"x","type":"quantitative","scale":{"domain":[-10.7,15.2],"nice":false,"zero":false},"axis":null},"y":{"field":"y","type":"quantitative","scale":{"domain":[98,263],"nice":false,"zero":false},"axis":null}}},
 {"data":{"name":"lines"},"transform":[{"filter":"datum.p==='C'"}],"mark":{"type":"rule","color":"#111111","strokeWidth":1.5},"encoding":{"x":{"field":"x","type":"quantitative","scale":{"domain":[-10.7,15.2],"nice":false,"zero":false},"axis":null},"y":{"field":"y","type":"quantitative","scale":{"domain":[98,263],"nice":false,"zero":false},"axis":null},"x2":{"field":"x2"},"y2":{"field":"y2"}}},
 {"data":{"name":"texts"},"transform":[{"filter":"datum.p==='C'"}],"mark":{"type":"text","font":"Open Sans","fontSize":18,"color":"#262626"},"encoding":{"x":{"field":"x","type":"quantitative","scale":{"domain":[-10.7,15.2],"nice":false,"zero":false},"axis":null},"y":{"field":"y","type":"quantitative","scale":{"domain":[98,263],"nice":false,"zero":false},"axis":null},"text":{"field":"t"}}}
]},
{"width":195,"height":195,"view":{"stroke":null},"data":{"values":[{"a":0}]},"mark":{"type":"point","opacity":0}},
{"width":195,"height":195,"view":{"stroke":null},"data":{"values":[{"a":0}]},"mark":{"type":"point","opacity":0}},

{"width":195,"height":195,"layer":[
 {"data":{"name":"pts"},"transform":[{"filter":"datum.p==='D' && datum.k==='c'"}],"mark":{"type":"point","filled":true,"size":7,"color":"#6b5f78","opacity":0.9},"encoding":{"x":{"field":"x","type":"quantitative","scale":{"domain":[95,280],"nice":false,"zero":false},"axis":null},"y":{"field":"y","type":"quantitative","scale":{"domain":[50,2550],"nice":false,"zero":false},"axis":{"title":"Zr ppm","titleX":-55,"labelOverlap":false,"tickCount":60,"values":[250,500,750,1000,1250,1500,1750,2000,2250,2500],"labelExpr":"indexof([500,1000,1500,2000],datum.value)>=0 ? ''+datum.value : ''","tickSize":{"condition":{"test":"indexof([500,1000,1500,2000],datum.value)>=0","value":7},"value":4}}}}},
 {"data":{"name":"ell"},"transform":[{"filter":"datum.p==='D'"}],"mark":{"type":"line","interpolate":"cardinal-closed","tension":-0.657,"fillOpacity":0.2,"strokeWidth":1.5},"encoding":{"x":{"field":"x","type":"quantitative","scale":{"domain":[95,280],"nice":false,"zero":false},"axis":null},"y":{"field":"y","type":"quantitative","scale":{"domain":[50,2550],"nice":false,"zero":false}},"stroke":{"field":"e","type":"nominal","scale":{"domain":["K0722","K0467","s3","s4","s5","s6","s7"],"range":["#3db38d","#5db548","#4470c6","#c4be33","#e07a2b","#8b4dbd","#d63a6c"]},"legend":null},"fill":{"field":"e","type":"nominal","scale":{"domain":["K0722","K0467","s3","s4","s5","s6","s7"],"range":["#5cc6a2","#6fc25a","#5a86d6","#d9d69e","#eccaa6","#7b45c2","#c585b4"]},"legend":null},"order":{"field":"i","type":"quantitative"}}},
 {"data":{"name":"pts"},"transform":[{"filter":"datum.p==='D' && datum.k==='o'"}],"mark":{"type":"point","filled":true,"size":20,"color":"#111111","opacity":1},"encoding":{"x":{"field":"x","type":"quantitative","scale":{"domain":[95,280],"nice":false,"zero":false},"axis":null},"y":{"field":"y","type":"quantitative","scale":{"domain":[50,2550],"nice":false,"zero":false}}}},
 {"data":{"name":"lines"},"transform":[{"filter":"datum.p==='D'"}],"mark":{"type":"rule","color":"#111111","strokeWidth":1.5},"encoding":{"x":{"field":"x","type":"quantitative","scale":{"domain":[95,280],"nice":false,"zero":false},"axis":null},"y":{"field":"y","type":"quantitative","scale":{"domain":[50,2550],"nice":false,"zero":false}},"x2":{"field":"x2"},"y2":{"field":"y2"}}},
 {"data":{"name":"texts"},"transform":[{"filter":"datum.p==='D'"}],"mark":{"type":"text","font":"Open Sans","fontSize":18,"color":"#262626"},"encoding":{"x":{"field":"x","type":"quantitative","scale":{"domain":[95,280],"nice":false,"zero":false},"axis":null},"y":{"field":"y","type":"quantitative","scale":{"domain":[50,2550],"nice":false,"zero":false}},"text":{"field":"t"}}}
]},
{"width":195,"height":195,"layer":[
 {"data":{"name":"pts"},"transform":[{"filter":"datum.p==='E' && datum.k==='c'"}],"mark":{"type":"point","filled":true,"size":7,"color":"#6b5f78","opacity":0.9},"encoding":{"x":{"field":"x","type":"quantitative","scale":{"domain":[-10.7,15.2],"nice":false,"zero":false},"axis":null},"y":{"field":"y","type":"quantitative","scale":{"domain":[50,2550],"nice":false,"zero":false},"axis":null}}},
 {"data":{"name":"ell"},"transform":[{"filter":"datum.p==='E'"}],"mark":{"type":"line","interpolate":"cardinal-closed","tension":-0.657,"fillOpacity":0.2,"strokeWidth":1.5},"encoding":{"x":{"field":"x","type":"quantitative","scale":{"domain":[-10.7,15.2],"nice":false,"zero":false},"axis":null},"y":{"field":"y","type":"quantitative","scale":{"domain":[50,2550],"nice":false,"zero":false},"axis":null},"stroke":{"field":"e","type":"nominal","scale":{"domain":["K0722","K0467","s3","s4","s5","s6","s7"],"range":["#3db38d","#5db548","#4470c6","#c4be33","#e07a2b","#8b4dbd","#d63a6c"]},"legend":null},"fill":{"field":"e","type":"nominal","scale":{"domain":["K0722","K0467","s3","s4","s5","s6","s7"],"range":["#5cc6a2","#6fc25a","#5a86d6","#d9d69e","#eccaa6","#7b45c2","#c585b4"]},"legend":null},"order":{"field":"i","type":"quantitative"}}},
 {"data":{"name":"pts"},"transform":[{"filter":"datum.p==='E' && datum.k==='o'"}],"mark":{"type":"point","filled":true,"size":20,"color":"#111111","opacity":1},"encoding":{"x":{"field":"x","type":"quantitative","scale":{"domain":[-10.7,15.2],"nice":false,"zero":false},"axis":null},"y":{"field":"y","type":"quantitative","scale":{"domain":[50,2550],"nice":false,"zero":false},"axis":null}}}
]},
{"width":195,"height":195,"layer":[
 {"data":{"name":"pts"},"transform":[{"filter":"datum.p==='F' && datum.k==='c'"}],"mark":{"type":"point","filled":true,"size":7,"color":"#6b5f78","opacity":0.9},"encoding":{"x":{"field":"x","type":"quantitative","scale":{"domain":[95,265],"nice":false,"zero":false},"axis":null},"y":{"field":"y","type":"quantitative","scale":{"domain":[50,2550],"nice":false,"zero":false},"axis":null}}},
 {"data":{"name":"ell"},"transform":[{"filter":"datum.p==='F'"}],"mark":{"type":"line","interpolate":"cardinal-closed","tension":-0.657,"fillOpacity":0.2,"strokeWidth":1.5},"encoding":{"x":{"field":"x","type":"quantitative","scale":{"domain":[95,265],"nice":false,"zero":false},"axis":null},"y":{"field":"y","type":"quantitative","scale":{"domain":[50,2550],"nice":false,"zero":false},"axis":null},"stroke":{"field":"e","type":"nominal","scale":{"domain":["K0722","K0467","s3","s4","s5","s6","s7"],"range":["#3db38d","#5db548","#4470c6","#c4be33","#e07a2b","#8b4dbd","#d63a6c"]},"legend":null},"fill":{"field":"e","type":"nominal","scale":{"domain":["K0722","K0467","s3","s4","s5","s6","s7"],"range":["#5cc6a2","#6fc25a","#5a86d6","#d9d69e","#eccaa6","#7b45c2","#c585b4"]},"legend":null},"order":{"field":"i","type":"quantitative"}}},
 {"data":{"name":"pts"},"transform":[{"filter":"datum.p==='F' && datum.k==='o'"}],"mark":{"type":"point","filled":true,"size":20,"color":"#111111","opacity":1},"encoding":{"x":{"field":"x","type":"quantitative","scale":{"domain":[95,265],"nice":false,"zero":false},"axis":null},"y":{"field":"y","type":"quantitative","scale":{"domain":[50,2550],"nice":false,"zero":false},"axis":null}}}
]},
{"width":195,"height":195,"view":{"stroke":null},"data":{"values":[{"a":0}]},"mark":{"type":"point","opacity":0}},

{"width":195,"height":195,"layer":[
 {"data":{"name":"pts"},"transform":[{"filter":"datum.p==='G' && datum.k==='c'"}],"mark":{"type":"point","filled":true,"size":7,"color":"#6b5f78","opacity":0.9},"encoding":{"x":{"field":"x","type":"quantitative","scale":{"domain":[95,280],"nice":false,"zero":false},"axis":{"title":"Rb ppm","labelOverlap":false,"tickCount":60,"values":[100,110,120,130,140,150,160,170,180,190,200,210,220,230,240,250,260,270,280],"labelExpr":"indexof([120,160,200,240],datum.value)>=0 ? ''+datum.value : ''","tickSize":{"condition":{"test":"indexof([120,160,200,240],datum.value)>=0","value":7},"value":4}}},"y":{"field":"y","type":"quantitative","scale":{"domain":[200,460],"nice":false,"zero":false},"axis":{"title":"Nb ppm","titleX":-55,"labelOverlap":false,"tickCount":60,"values":[200,225,250,275,300,325,350,375,400,425,450],"labelExpr":"indexof([200,250,300,350,400],datum.value)>=0 ? ''+datum.value : ''","tickSize":{"condition":{"test":"indexof([200,250,300,350,400],datum.value)>=0","value":7},"value":4}}}}},
 {"data":{"name":"ell"},"transform":[{"filter":"datum.p==='G'"}],"mark":{"type":"line","interpolate":"cardinal-closed","tension":-0.657,"fillOpacity":0.2,"strokeWidth":1.5},"encoding":{"x":{"field":"x","type":"quantitative","scale":{"domain":[95,280],"nice":false,"zero":false}},"y":{"field":"y","type":"quantitative","scale":{"domain":[200,460],"nice":false,"zero":false}},"stroke":{"field":"e","type":"nominal","scale":{"domain":["K0722","K0467","s3","s4","s5","s6","s7"],"range":["#3db38d","#5db548","#4470c6","#c4be33","#e07a2b","#8b4dbd","#d63a6c"]},"legend":null},"fill":{"field":"e","type":"nominal","scale":{"domain":["K0722","K0467","s3","s4","s5","s6","s7"],"range":["#5cc6a2","#6fc25a","#5a86d6","#d9d69e","#eccaa6","#7b45c2","#c585b4"]},"legend":null},"order":{"field":"i","type":"quantitative"}}},
 {"data":{"name":"pts"},"transform":[{"filter":"datum.p==='G' && datum.k==='o'"}],"mark":{"type":"point","filled":true,"size":20,"color":"#111111","opacity":1},"encoding":{"x":{"field":"x","type":"quantitative","scale":{"domain":[95,280],"nice":false,"zero":false}},"y":{"field":"y","type":"quantitative","scale":{"domain":[200,460],"nice":false,"zero":false}}}}
]},
{"width":195,"height":195,"layer":[
 {"data":{"name":"pts"},"transform":[{"filter":"datum.p==='H' && datum.k==='c'"}],"mark":{"type":"point","filled":true,"size":7,"color":"#6b5f78","opacity":0.9},"encoding":{"x":{"field":"x","type":"quantitative","scale":{"domain":[-10.7,15.2],"nice":false,"zero":false},"axis":{"title":"Sr ppm","labelOverlap":false,"tickCount":60,"values":[-10,-7.5,-5,-2.5,0,2.5,5,7.5,10,12.5,15],"labelExpr":"indexof([-10,-5,0,5,10],datum.value)>=0 ? ''+datum.value : ''","tickSize":{"condition":{"test":"indexof([-10,-5,0,5,10],datum.value)>=0","value":7},"value":4}}},"y":{"field":"y","type":"quantitative","scale":{"domain":[200,460],"nice":false,"zero":false},"axis":null}}},
 {"data":{"name":"ell"},"transform":[{"filter":"datum.p==='H'"}],"mark":{"type":"line","interpolate":"cardinal-closed","tension":-0.657,"fillOpacity":0.2,"strokeWidth":1.5},"encoding":{"x":{"field":"x","type":"quantitative","scale":{"domain":[-10.7,15.2],"nice":false,"zero":false}},"y":{"field":"y","type":"quantitative","scale":{"domain":[200,460],"nice":false,"zero":false},"axis":null},"stroke":{"field":"e","type":"nominal","scale":{"domain":["K0722","K0467","s3","s4","s5","s6","s7"],"range":["#3db38d","#5db548","#4470c6","#c4be33","#e07a2b","#8b4dbd","#d63a6c"]},"legend":null},"fill":{"field":"e","type":"nominal","scale":{"domain":["K0722","K0467","s3","s4","s5","s6","s7"],"range":["#5cc6a2","#6fc25a","#5a86d6","#d9d69e","#eccaa6","#7b45c2","#c585b4"]},"legend":null},"order":{"field":"i","type":"quantitative"}}},
 {"data":{"name":"pts"},"transform":[{"filter":"datum.p==='H' && datum.k==='o'"}],"mark":{"type":"point","filled":true,"size":20,"color":"#111111","opacity":1},"encoding":{"x":{"field":"x","type":"quantitative","scale":{"domain":[-10.7,15.2],"nice":false,"zero":false}},"y":{"field":"y","type":"quantitative","scale":{"domain":[200,460],"nice":false,"zero":false},"axis":null}}}
]},
{"width":195,"height":195,"layer":[
 {"data":{"name":"pts"},"transform":[{"filter":"datum.p==='I' && datum.k==='c'"}],"mark":{"type":"point","filled":true,"size":7,"color":"#6b5f78","opacity":0.9},"encoding":{"x":{"field":"x","type":"quantitative","scale":{"domain":[95,265],"nice":false,"zero":false},"axis":{"title":"Y ppm","labelOverlap":false,"tickCount":60,"values":[100,110,120,130,140,150,160,170,180,190,200,210,220,230,240,250,260],"labelExpr":"indexof([120,160,200,240],datum.value)>=0 ? ''+datum.value : ''","tickSize":{"condition":{"test":"indexof([120,160,200,240],datum.value)>=0","value":7},"value":4}}},"y":{"field":"y","type":"quantitative","scale":{"domain":[200,460],"nice":false,"zero":false},"axis":null}}},
 {"data":{"name":"ell"},"transform":[{"filter":"datum.p==='I'"}],"mark":{"type":"line","interpolate":"cardinal-closed","tension":-0.657,"fillOpacity":0.2,"strokeWidth":1.5},"encoding":{"x":{"field":"x","type":"quantitative","scale":{"domain":[95,265],"nice":false,"zero":false}},"y":{"field":"y","type":"quantitative","scale":{"domain":[200,460],"nice":false,"zero":false},"axis":null},"stroke":{"field":"e","type":"nominal","scale":{"domain":["K0722","K0467","s3","s4","s5","s6","s7"],"range":["#3db38d","#5db548","#4470c6","#c4be33","#e07a2b","#8b4dbd","#d63a6c"]},"legend":null},"fill":{"field":"e","type":"nominal","scale":{"domain":["K0722","K0467","s3","s4","s5","s6","s7"],"range":["#5cc6a2","#6fc25a","#5a86d6","#d9d69e","#eccaa6","#7b45c2","#c585b4"]},"legend":null},"order":{"field":"i","type":"quantitative"}}},
 {"data":{"name":"pts"},"transform":[{"filter":"datum.p==='I' && datum.k==='o'"}],"mark":{"type":"point","filled":true,"size":20,"color":"#111111","opacity":1},"encoding":{"x":{"field":"x","type":"quantitative","scale":{"domain":[95,265],"nice":false,"zero":false}},"y":{"field":"y","type":"quantitative","scale":{"domain":[200,460],"nice":false,"zero":false},"axis":null}}}
]},
{"width":195,"height":195,"layer":[
 {"data":{"name":"pts"},"transform":[{"filter":"datum.p==='J' && datum.k==='c'"}],"mark":{"type":"point","filled":true,"size":7,"color":"#6b5f78","opacity":0.9},"encoding":{"x":{"field":"x","type":"quantitative","scale":{"domain":[40,2530],"nice":false,"zero":false},"axis":{"title":"Zr ppm","labelOverlap":false,"tickCount":60,"values":[250,500,750,1000,1250,1500,1750,2000,2250,2500],"labelExpr":"indexof([500,1500],datum.value)>=0 ? ''+datum.value : ''","tickSize":{"condition":{"test":"indexof([500,1500],datum.value)>=0","value":7},"value":4}}},"y":{"field":"y","type":"quantitative","scale":{"domain":[200,460],"nice":false,"zero":false},"axis":null}}},
 {"data":{"name":"ell"},"transform":[{"filter":"datum.p==='J'"}],"mark":{"type":"line","interpolate":"cardinal-closed","tension":-0.657,"fillOpacity":0.2,"strokeWidth":1.5},"encoding":{"x":{"field":"x","type":"quantitative","scale":{"domain":[40,2530],"nice":false,"zero":false}},"y":{"field":"y","type":"quantitative","scale":{"domain":[200,460],"nice":false,"zero":false},"axis":null},"stroke":{"field":"e","type":"nominal","scale":{"domain":["K0722","K0467","s3","s4","s5","s6","s7"],"range":["#3db38d","#5db548","#4470c6","#c4be33","#e07a2b","#8b4dbd","#d63a6c"]},"legend":null},"fill":{"field":"e","type":"nominal","scale":{"domain":["K0722","K0467","s3","s4","s5","s6","s7"],"range":["#5cc6a2","#6fc25a","#5a86d6","#d9d69e","#eccaa6","#7b45c2","#c585b4"]},"legend":null},"order":{"field":"i","type":"quantitative"}}},
 {"data":{"name":"pts"},"transform":[{"filter":"datum.p==='J' && datum.k==='o'"}],"mark":{"type":"point","filled":true,"size":20,"color":"#111111","opacity":1},"encoding":{"x":{"field":"x","type":"quantitative","scale":{"domain":[40,2530],"nice":false,"zero":false}},"y":{"field":"y","type":"quantitative","scale":{"domain":[200,460],"nice":false,"zero":false},"axis":null}}},
 {"data":{"name":"lines"},"transform":[{"filter":"datum.p==='J'"}],"mark":{"type":"rule","color":"#111111","strokeWidth":1.5},"encoding":{"x":{"field":"x","type":"quantitative","scale":{"domain":[40,2530],"nice":false,"zero":false}},"y":{"field":"y","type":"quantitative","scale":{"domain":[200,460],"nice":false,"zero":false},"axis":null},"x2":{"field":"x2"},"y2":{"field":"y2"}}},
 {"data":{"name":"texts"},"transform":[{"filter":"datum.p==='J'"}],"mark":{"type":"text","font":"Open Sans","fontSize":18,"color":"#262626"},"encoding":{"x":{"field":"x","type":"quantitative","scale":{"domain":[40,2530],"nice":false,"zero":false}},"y":{"field":"y","type":"quantitative","scale":{"domain":[200,460],"nice":false,"zero":false},"axis":null},"text":{"field":"t"}}}
]}
]
}
